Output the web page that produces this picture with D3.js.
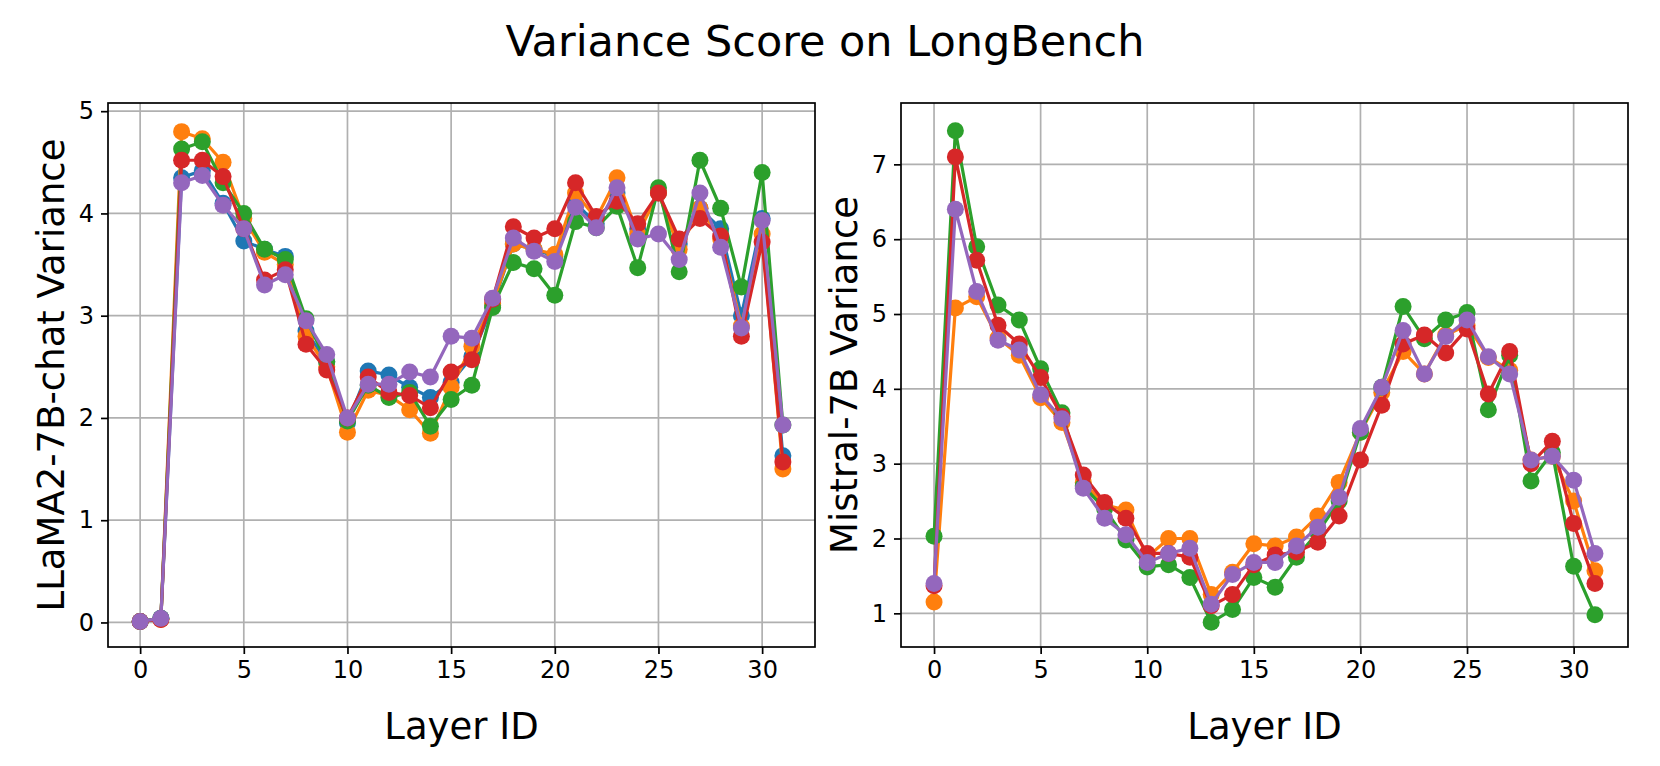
<!DOCTYPE html><html><head><meta charset="utf-8"><script src="https://cdn.jsdelivr.net/npm/d3@7"></script>
<style>body{margin:0;background:#fff}text{font-family:"DejaVu Sans",sans-serif}</style></head><body><svg id="c" width="1660" height="766"></svg>
<script>
const layers = d3.range(32);
const colors = ["#1f77b4","#ff7f0e","#2ca02c","#d62728","#9467bd"];
// LLaMA2-7B-chat series
const llamaBlue   = [0.01,0.04,4.35,4.42,4.10,3.73,3.65,3.58,2.85,2.55,1.95,2.46,2.42,2.30,2.20,2.35,2.60,3.10,3.70,3.65,3.58,4.10,3.90,4.20,3.85,4.20,3.70,4.05,3.85,3.00,3.95,1.63];
const llamaOrange = [0.01,0.03,4.80,4.73,4.50,3.95,3.62,3.50,2.80,2.50,1.86,2.27,2.22,2.08,1.85,2.30,2.70,3.12,3.70,3.65,3.60,4.20,3.95,4.35,3.80,4.20,3.65,4.05,3.75,2.90,3.80,1.50];
const llamaGreen  = [0.01,0.04,4.63,4.70,4.30,4.00,3.65,3.55,2.97,2.55,1.97,2.32,2.20,2.25,1.92,2.18,2.32,3.08,3.52,3.46,3.20,3.92,3.86,4.07,3.47,4.25,3.43,4.52,4.05,3.28,4.40,1.93];
const llamaRed    = [0.01,0.03,4.52,4.52,4.36,3.85,3.35,3.45,2.72,2.47,2.00,2.40,2.25,2.22,2.10,2.45,2.57,3.16,3.87,3.76,3.85,4.30,3.97,4.12,3.90,4.20,3.75,3.95,3.78,2.80,3.72,1.57];
const llamaPurple = [0.01,0.04,4.30,4.37,4.08,3.85,3.30,3.40,2.95,2.62,2.00,2.33,2.33,2.45,2.40,2.80,2.78,3.17,3.76,3.63,3.53,4.06,3.86,4.25,3.75,3.80,3.55,4.20,3.67,2.88,3.93,1.93];
// Mistral-7B series
const mistralOrange = [1.15,5.08,5.23,4.68,4.45,3.88,3.55,2.75,2.45,2.38,1.75,2.00,2.00,1.25,1.55,1.93,1.90,2.02,2.30,2.75,3.42,3.95,4.50,4.20,4.72,4.85,4.42,4.25,3.05,3.10,2.50,1.57];
const mistralGreen  = [2.03,7.45,5.90,5.12,4.92,4.27,3.68,2.70,2.40,1.98,1.62,1.65,1.48,0.88,1.05,1.48,1.35,1.75,2.08,2.50,3.42,4.02,5.10,4.67,4.92,5.02,3.72,4.45,2.77,3.15,1.63,0.98];
const mistralRed    = [1.37,7.10,5.72,4.85,4.60,4.15,3.63,2.85,2.48,2.27,1.80,1.80,1.75,1.10,1.25,1.65,1.78,1.82,1.95,2.30,3.05,3.78,4.60,4.72,4.48,4.80,3.93,4.50,3.00,3.30,2.20,1.40];
const mistralPurple = [1.40,6.40,5.30,4.65,4.52,3.92,3.60,2.67,2.27,2.05,1.68,1.80,1.87,1.12,1.52,1.68,1.68,1.90,2.15,2.55,3.47,4.02,4.78,4.20,4.70,4.92,4.43,4.20,3.05,3.10,2.78,1.80];
const xTicks = [0,5,10,15,20,25,30];
const llamaTicks = [0,1,2,3,4,5];
const mistralTicks = [1,2,3,4,5,6,7];

const svg = d3.select("#c");
svg.append("text").attr("x",825).attr("y",56).attr("text-anchor","middle").attr("font-size",43).text("Variance Score on LongBench");

function panel(L,R,T,B,yDom,yT,ylabel,series,labOff){
  const x = d3.scaleLinear().domain([-1.55,32.55]).range([L,R]);
  const y = d3.scaleLinear().domain(yDom).range([B,T]);
  const g = svg.append("g");
  g.selectAll(".gx").data(xTicks).join("line").attr("x1",d=>x(d)).attr("x2",d=>x(d)).attr("y1",T).attr("y2",B).attr("stroke","#b0b0b0").attr("stroke-width",1.7);
  g.selectAll(".gy").data(yT).join("line").attr("x1",L).attr("x2",R).attr("y1",d=>y(d)).attr("y2",d=>y(d)).attr("stroke","#b0b0b0").attr("stroke-width",1.7);
  const line = d3.line().x((d,i)=>x(i)).y(d=>y(d));
  series.forEach(([vals,c])=>{
    g.append("path").attr("d",line(vals)).attr("fill","none").attr("stroke",c).attr("stroke-width",3.2);
    g.selectAll(null).data(vals).join("circle").attr("cx",(d,i)=>x(i)).attr("cy",d=>y(d)).attr("r",8.5).attr("fill",c);
  });
  g.append("rect").attr("x",L).attr("y",T).attr("width",R-L).attr("height",B-T).attr("fill","none").attr("stroke","#000").attr("stroke-width",1.7);
  const ax = g.append("g").attr("transform",`translate(0,${B})`).call(d3.axisBottom(x).tickValues(xTicks).tickFormat(d3.format("d")).tickSize(7).tickPadding(7));
  const ay = g.append("g").attr("transform",`translate(${L},0)`).call(d3.axisLeft(y).tickValues(yT).tickFormat(d3.format("d")).tickSize(7).tickPadding(7));
  [ax,ay].forEach(a=>{a.select(".domain").remove();a.selectAll("text").attr("font-size",24).attr("font-family","DejaVu Sans").attr("fill","#000");a.selectAll("line").attr("stroke-width",1.7);});
  g.append("text").attr("x",(L+R)/2).attr("y",B+92).attr("text-anchor","middle").attr("font-size",37).text("Layer ID");
  g.append("text").attr("transform",`translate(${L-labOff},${(T+B)/2}) rotate(-90)`).attr("text-anchor","middle").attr("font-size",37).text(ylabel);
}
panel(108,815,103,647,[-0.24,5.08],llamaTicks,"LLaMA2-7B-chat Variance",
  [[llamaBlue,colors[0]],[llamaOrange,colors[1]],[llamaGreen,colors[2]],[llamaRed,colors[3]],[llamaPurple,colors[4]]],44);
panel(901,1628,103,647,[0.55,7.82],mistralTicks,"Mistral-7B Variance",
  [[mistralOrange,colors[1]],[mistralGreen,colors[2]],[mistralRed,colors[3]],[mistralPurple,colors[4]]],44);
</script></body></html>
